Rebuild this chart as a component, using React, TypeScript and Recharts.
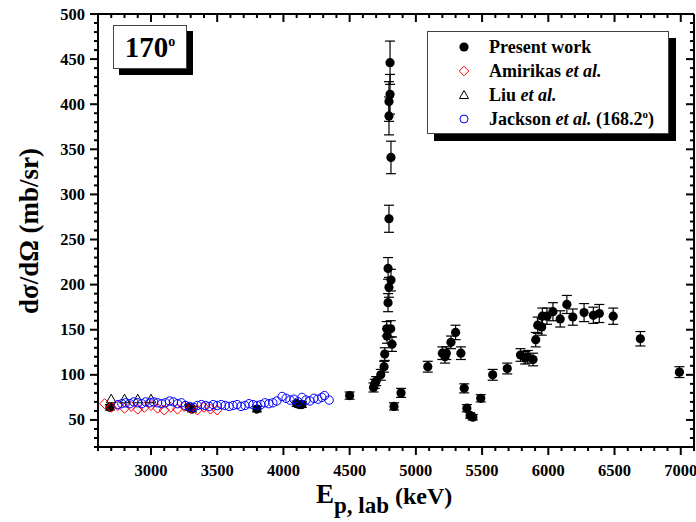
import React from "react";
import { ScatterChart, Scatter, XAxis, YAxis, ErrorBar } from "recharts";

// Present work: proton energy (keV), cross section (mb/sr), uncertainty
const presentE = [
  2690, 3290, 3310, 3800, 4100, 4120, 4140, 4500,
  4680, 4690, 4700, 4735, 4760, 4765, 4780, 4782, 4810, 4820, 4790, 4797,
  4812, 4790, 4797, 4812, 4797, 4797, 4805, 4805, 4835, 4888,
  5090, 5200, 5220, 5230, 5265, 5300, 5340, 5365, 5385, 5410, 5430, 5490,
  5580, 5690, 5790, 5825, 5845, 5885, 5905, 5920, 5950, 5955, 5990, 6035,
  6090, 6140, 6185, 6270, 6340, 6385, 6490, 6695, 6990,
];
const presentSigma = [
  64, 64, 62, 62, 68, 67, 67, 77,
  86, 90, 93, 100, 109, 123, 151, 143, 151, 134, 180, 197,
  205, 218, 273, 341, 387, 403, 411, 446, 65, 80,
  109, 124, 120, 124, 136, 147, 124, 85, 63, 55, 53, 74,
  100, 107, 122, 119, 120, 117, 139, 155, 153, 165, 165, 170,
  162, 178, 164, 169, 166, 168, 165, 140, 103,
];
const presentErr = [
  3, 3, 3, 3, 3, 3, 3, 4,
  5, 5, 5, 6, 6, 7, 8, 8, 9, 8, 10, 11,
  12, 12, 15, 18, 21, 22, 22, 24, 4, 5,
  6, 7, 7, 7, 7, 8, 7, 5, 4, 3, 3, 4,
  6, 6, 7, 7, 7, 7, 8, 9, 9, 9, 9, 10,
  9, 10, 9, 10, 9, 10, 9, 8, 6,
];

// Amirikas et al.
const amirikasE = [
  2650, 2700, 2750, 2800, 2850, 2900, 2950, 3000, 3050,
  3100, 3150, 3200, 3250, 3300, 3350, 3400, 3450, 3500,
];
const amirikasSigma = [68, 64, 66, 63, 65, 62, 64, 66, 63, 61, 64, 62, 65, 63, 61, 64, 62, 61];

// Liu et al.
const liuE = [2700, 2800, 2900, 3000];
const liuSigma = [73, 73, 73, 73];

// Jackson et al. (168.2 deg)
const jacksonE = [
  2750, 2780, 2810, 2840, 2870, 2900, 2930, 2960, 2990, 3020, 3050, 3080,
  3110, 3140, 3170, 3200, 3230, 3260, 3290, 3320, 3350, 3380, 3410, 3440,
  3470, 3500, 3530, 3560, 3590, 3620, 3650, 3680, 3710, 3740, 3770, 3800,
  3830, 3860, 3890, 3920, 3950, 3990, 4020, 4050, 4080, 4110, 4140, 4170,
  4200, 4230, 4260, 4290, 4310, 4345,
];
const jacksonSigma = [
  67, 68, 69, 68, 70, 69, 68, 70, 69, 70, 69, 68,
  69, 71, 70, 68, 69, 66, 65, 64, 66, 67, 66, 65,
  67, 66, 67, 66, 65, 66, 67, 65, 66, 68, 67, 66,
  67, 69, 68, 69, 71, 76, 74, 72, 73, 70, 75, 72,
  71, 74, 73, 75, 77, 72,
];

const X_MAJOR = [3000, 3500, 4000, 4500, 5000, 5500, 6000, 6500, 7000];
const Y_MAJOR = [50, 100, 150, 200, 250, 300, 350, 400, 450, 500];

const X_DOMAIN: [number, number] = [2600, 7100];
const Y_DOMAIN: [number, number] = [20, 500];

const xTicks: number[] = [];
for (let v = X_DOMAIN[0]; v <= X_DOMAIN[1]; v += 100) xTicks.push(v);
const yTicks: number[] = [];
for (let v = Y_DOMAIN[0]; v <= Y_DOMAIN[1]; v += 10) yTicks.push(v);

const presentData = presentE.map((x, i) => ({ x, y: presentSigma[i], err: presentErr[i] }));
const amirikasData = amirikasE.map((x, i) => ({ x, y: amirikasSigma[i] }));
const liuData = liuE.map((x, i) => ({ x, y: liuSigma[i] }));
const jacksonData = jacksonE.map((x, i) => ({ x, y: jacksonSigma[i] }));

const FONT = "'Liberation Serif', 'Times New Roman', serif";
const MAJOR = 8;
const MINOR = 4;

const BottomTick = (p: any) => {
  const v = p.payload.value;
  const major = X_MAJOR.includes(v);
  return (
    <g>
      <line x1={p.x} x2={p.x} y1={p.y} y2={p.y + (major ? MAJOR : MINOR)} stroke="#000" strokeWidth={2} />
      {major && (
        <text x={p.x} y={p.y + 29} textAnchor="middle" fontFamily={FONT} fontWeight="bold" fontSize={16.5} fill="#000">
          {v}
        </text>
      )}
    </g>
  );
};

const TopTick = (p: any) => {
  const major = X_MAJOR.includes(p.payload.value);
  return <line x1={p.x} x2={p.x} y1={p.y} y2={p.y + (major ? MAJOR : MINOR)} stroke="#000" strokeWidth={2} />;
};

const LeftTick = (p: any) => {
  const v = p.payload.value;
  const major = Y_MAJOR.includes(v);
  return (
    <g>
      <line x1={p.x - (major ? MAJOR : MINOR)} x2={p.x} y1={p.y} y2={p.y} stroke="#000" strokeWidth={2} />
      {major && (
        <text x={p.x - 13} y={p.y + 5.5} textAnchor="end" fontFamily={FONT} fontWeight="bold" fontSize={16.5} fill="#000">
          {v}
        </text>
      )}
    </g>
  );
};

const RightTick = (p: any) => {
  const major = Y_MAJOR.includes(p.payload.value);
  return <line x1={p.x - (major ? MAJOR : MINOR)} x2={p.x} y1={p.y} y2={p.y} stroke="#000" strokeWidth={2} />;
};

const FilledDot = (p: any) => <circle cx={p.cx} cy={p.cy} r={4.6} fill="#000" />;
const OpenDiamond = (p: any) => (
  <path
    d={`M${p.cx},${p.cy - 5}L${p.cx + 5},${p.cy}L${p.cx},${p.cy + 5}L${p.cx - 5},${p.cy}Z`}
    fill="none"
    stroke="#ff0000"
    strokeWidth={1}
  />
);
const OpenTriangle = (p: any) => (
  <path
    d={`M${p.cx},${p.cy - 5}L${p.cx + 4.8},${p.cy + 3.6}L${p.cx - 4.8},${p.cy + 3.6}Z`}
    fill="none"
    stroke="#000"
    strokeWidth={1}
  />
);
const OpenCircle = (p: any) => <circle cx={p.cx} cy={p.cy} r={4.2} fill="none" stroke="#0000ff" strokeWidth={1} />;

const legendRows = [
  { marker: "dot", content: <>Present work</> },
  { marker: "diamond", content: <>Amirikas <i>et al.</i></> },
  { marker: "triangle", content: <>Liu <i>et al.</i></> },
  {
    marker: "circle",
    content: (
      <>
        Jackson <i>et al.</i> (168.2<sup style={{ fontSize: 11, verticalAlign: "7px" }}>o</sup>)
      </>
    ),
  },
];

const LegendMarker = ({ kind }: { kind: string }) => (
  <svg width={14} height={14} style={{ display: "block" }}>
    {kind === "dot" && <circle cx={7} cy={7} r={4.6} fill="#000" />}
    {kind === "diamond" && <path d="M7,2.2L11.8,7L7,11.8L2.2,7Z" fill="none" stroke="#ff0000" />}
    {kind === "triangle" && <path d="M7,2.5L11.5,10.5L2.5,10.5Z" fill="none" stroke="#000" />}
    {kind === "circle" && <circle cx={7} cy={7} r={4} fill="none" stroke="#0000ff" />}
  </svg>
);

export default function App() {
  return (
    <div style={{ position: "absolute", left: 0, top: 0, width: 696, height: 522, background: "#fff" }}>
      <ScatterChart width={696} height={522} margin={{ top: 0, right: 0, bottom: 0, left: 0 }}>
        <XAxis
          xAxisId="b"
          type="number"
          dataKey="x"
          orientation="bottom"
          domain={X_DOMAIN}
          ticks={xTicks}
          interval={0}
          allowDataOverflow
          height={75}
          tickSize={0}
          tickMargin={0}
          tick={BottomTick}
          axisLine={{ stroke: "#000", strokeWidth: 2 }}
        />
        <XAxis
          xAxisId="t"
          type="number"
          dataKey="x"
          orientation="top"
          domain={X_DOMAIN}
          ticks={xTicks}
          interval={0}
          allowDataOverflow
          height={14}
          tickSize={0}
          tickMargin={0}
          tick={TopTick}
          axisLine={{ stroke: "#000", strokeWidth: 2 }}
        />
        <YAxis
          yAxisId="l"
          type="number"
          dataKey="y"
          orientation="left"
          domain={Y_DOMAIN}
          ticks={yTicks}
          interval={0}
          allowDataOverflow
          width={98}
          tickSize={0}
          tickMargin={0}
          tick={LeftTick}
          axisLine={{ stroke: "#000", strokeWidth: 2 }}
        />
        <YAxis
          yAxisId="r"
          type="number"
          dataKey="y"
          orientation="right"
          domain={Y_DOMAIN}
          ticks={yTicks}
          interval={0}
          allowDataOverflow
          width={2}
          tickSize={0}
          tickMargin={0}
          tick={RightTick}
          axisLine={{ stroke: "#000", strokeWidth: 2 }}
        />
        <Scatter
          name="Present work"
          data={presentData}
          xAxisId="b"
          yAxisId="l"
          shape={FilledDot}
          isAnimationActive={false}
        >
          <ErrorBar dataKey="err" direction="y" width={5} stroke="#000" strokeWidth={1.2} />
        </Scatter>
        <Scatter name="Amirikas et al." data={amirikasData} xAxisId="b" yAxisId="l" shape={OpenDiamond} isAnimationActive={false} />
        <Scatter name="Liu et al." data={liuData} xAxisId="b" yAxisId="l" shape={OpenTriangle} isAnimationActive={false} />
        <Scatter name="Jackson et al." data={jacksonData} xAxisId="b" yAxisId="l" shape={OpenCircle} isAnimationActive={false} />
        <Scatter data={[{ x: X_DOMAIN[0], y: Y_DOMAIN[0] }]} xAxisId="t" yAxisId="r" shape={() => <g />} isAnimationActive={false} />
      </ScatterChart>

      {/* axis titles */}
      <svg width={696} height={522} style={{ position: "absolute", left: 0, top: 0, pointerEvents: "none" }}>
        <text
          transform="translate(38, 231) rotate(-90)"
          textAnchor="middle"
          fontFamily={FONT}
          fontWeight="bold"
          fontSize={27}
          fill="#000"
        >
          dσ/dΩ (mb/sr)
        </text>
        <text x={316} y={503} fontFamily={FONT} fontWeight="bold" fill="#000">
          <tspan fontSize={27}>E</tspan>
          <tspan fontSize={23} dy={10}>p, lab</tspan>
          <tspan fontSize={24} dx={6} dy={-9}>(keV)</tspan>
        </text>
      </svg>

      {/* angle tag */}
      <div
        style={{
          position: "absolute",
          left: 113,
          top: 25,
          width: 72,
          height: 42,
          border: "1px solid #444",
          background: "#fff",
          boxShadow: "6px 6px 0 #000",
          fontFamily: FONT,
          fontWeight: "bold",
          fontSize: 29,
          color: "#000",
          display: "flex",
          alignItems: "center",
          justifyContent: "center",
        }}
      >
        <span>
          170<sup style={{ fontSize: 14, verticalAlign: "11px" }}>o</sup>
        </span>
      </div>

      {/* legend */}
      <div
        style={{
          position: "absolute",
          left: 427,
          top: 31,
          width: 240,
          height: 101,
          border: "1px solid #444",
          background: "#fff",
          boxShadow: "7px 7px 0 #000",
          fontFamily: FONT,
          fontWeight: "bold",
          fontSize: 18,
          color: "#000",
        }}
      >
        {legendRows.map((r, i) => (
          <div
            key={i}
            style={{ position: "absolute", left: 29, top: 3 + i * 24, height: 24, display: "flex", alignItems: "center", whiteSpace: "nowrap" }}
          >
            <LegendMarker kind={r.marker} />
            <span style={{ marginLeft: 18 }}>{r.content}</span>
          </div>
        ))}
      </div>
    </div>
  );
}
